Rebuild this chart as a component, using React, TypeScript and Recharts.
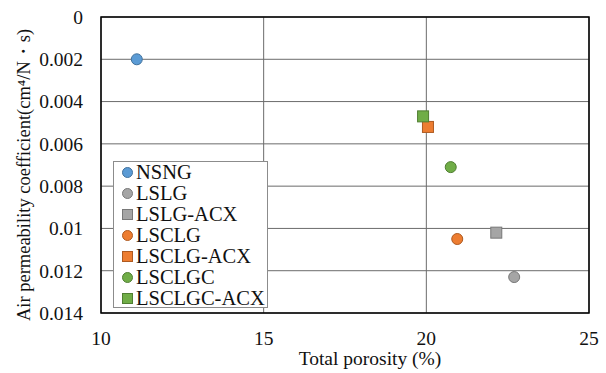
import { CartesianGrid, ReferenceArea, Scatter, ScatterChart, XAxis, YAxis } from "recharts";

const seriesNames = ["NSNG", "LSLG", "LSLG-ACX", "LSCLG", "LSCLG-ACX", "LSCLGC", "LSCLGC-ACX"];
const porosity = [11.1, 22.7, 22.15, 20.95, 20.05, 20.75, 19.9];
const permeability = [0.002, 0.0123, 0.0102, 0.0105, 0.0052, 0.0071, 0.0047];
const shapes = ["circle", "circle", "square", "circle", "square", "circle", "square"];
const fills = ["#5B9BD5", "#A5A5A5", "#A5A5A5", "#ED7D31", "#ED7D31", "#70AD47", "#70AD47"];
const strokes = ["#41719C", "#787878", "#787878", "#AE5A21", "#AE5A21", "#507E32", "#507E32"];
const xTicks = [10, 15, 20, 25];
const yTicks = [0, 0.002, 0.004, 0.006, 0.008, 0.01, 0.012, 0.014];

const font = "'Liberation Serif', 'Times New Roman', serif";

function Marker(props: any) {
  const { cx, cy, kind, fill, stroke } = props;
  if (cx == null || cy == null) return null;
  if (kind === "square") {
    return <rect x={cx - 5.5} y={cy - 5.5} width={11} height={11} fill={fill} stroke={stroke} strokeWidth={1} />;
  }
  return <circle cx={cx} cy={cy} r={5.5} fill={fill} stroke={stroke} strokeWidth={1} />;
}

function LegendBox() {
  return (
    <div
      style={{
        position: "absolute",
        left: 113,
        top: 161,
        width: 155,
        height: 147,
        border: "1.5px solid #8c8c8c",
        background: "#fff",
        paddingLeft: 8,
        boxSizing: "border-box",
        fontFamily: font,
        fontSize: 20.5,
      }}
    >
      {seriesNames.map((name, i) => (
        <div key={name} style={{ display: "flex", alignItems: "center", height: 21 }}>
          <svg width={11} height={11} style={{ marginRight: 3 }}>
            {shapes[i] === "square" ? (
              <rect x={0.5} y={0.5} width={10} height={10} fill={fills[i]} stroke={strokes[i]} />
            ) : (
              <circle cx={5.5} cy={5.5} r={5} fill={fills[i]} stroke={strokes[i]} />
            )}
          </svg>
          <span style={{ lineHeight: "21px", color: "#111" }}>{name}</span>
        </div>
      ))}
    </div>
  );
}

export default function App() {
  return (
    <div style={{ position: "absolute", left: 0, top: 0, width: 606, height: 373, background: "#fff" }}>
      <ScatterChart width={606} height={373} margin={{ top: 17, right: 17, bottom: 0, left: 0 }}>
        <CartesianGrid stroke="#6b6b6b" strokeWidth={1} />
        <XAxis
          type="number"
          dataKey="x"
          domain={[10, 25]}
          ticks={xTicks}
          tickSize={0}
          tickMargin={18}
          axisLine={false}
          tick={{ fill: "#111", fontSize: 19.5, fontFamily: font }}
          height={60}
          label={{
            content: () => (
              <text x={370} y={365} textAnchor="middle" fill="#111" fontSize={19.5} fontFamily={font}>
                Total porosity (%)
              </text>
            ),
          }}
        />
        <YAxis
          type="number"
          dataKey="y"
          reversed
          domain={[0, 0.014]}
          ticks={yTicks}
          tickSize={0}
          tickMargin={18}
          axisLine={false}
          width={101}
          tick={{ fill: "#111", fontSize: 19.5, fontFamily: font }}
          label={{
            content: () => (
              <text
                x={0}
                y={0}
                transform="translate(30 175) rotate(-90)"
                textAnchor="middle"
                fill="#111"
                fontSize={18.5}
                fontFamily={font}
              >
                Air permeability coefficient(cm⁴/N・s)
              </text>
            ),
          }}
        />
        <ReferenceArea x1={10} x2={25} y1={0} y2={0.014} fill="none" stroke="#000" strokeWidth={1.5} ifOverflow="visible" />
        {seriesNames.map((name, i) => (
          <Scatter
            key={name}
            name={name}
            data={[{ x: porosity[i], y: permeability[i] }]}
            isAnimationActive={false}
            shape={(p: any) => <Marker {...p} kind={shapes[i]} fill={fills[i]} stroke={strokes[i]} />}
          />
        ))}
      </ScatterChart>
      <LegendBox />
    </div>
  );
}
